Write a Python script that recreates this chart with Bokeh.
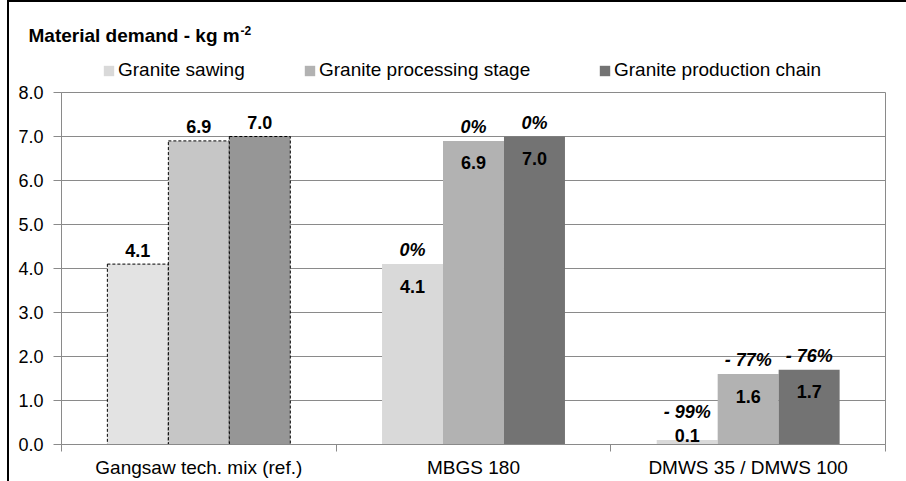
from bokeh.plotting import figure
from bokeh.layouts import column
from bokeh.models import (ColumnDataSource, Range1d, FixedTicker, NumeralTickFormatter,
                          Legend, LegendItem, Label)
from bokeh.core.properties import value
from bokeh.embed import file_html
from bokeh.resources import INLINE

# ---- data -------------------------------------------------------------
categories = ["Gangsaw tech. mix (ref.)", "MBGS 180", "DMWS 35 / DMWS 100"]
series = ["Granite sawing", "Granite processing stage", "Granite production chain"]
sawing = [4.1, 4.1, 0.1]
processing = [6.9, 6.9, 1.6]
production_chain = [7.0, 7.0, 1.7]
sawing_change = ["", "0%", "- 99%"]
processing_change = ["", "0%", "- 77%"]
chain_change = ["", "0%", "- 76%"]
y_ticks = [0, 1, 2, 3, 4, 5, 6, 7, 8]
title_text = "Material demand - kg m"
title_exponent = "-2"

values = [sawing, processing, production_chain]
changes = [sawing_change, processing_change, chain_change]

# ---- styling ------------------------------------------------------------
FONT = "Liberation Sans"
GRID = "#8a8a8a"
fill_ref = ["#e3e3e3", "#c6c6c6", "#969696"]     # reference technology (dashed)
fill_alt = ["#d9d9d9", "#b2b2b2", "#737373"]     # alternative technologies
bar_w = 0.222
offsets = [-bar_w, 0.0, bar_w]

W = 897          # canvas width inside the outer frame line
HEAD_H = 80      # title + legend strip
PLOT_H = 399     # chart area

# ---- header: title and legend -----------------------------------------------
head = figure(width=W, height=HEAD_H, x_range=Range1d(0, W), y_range=Range1d(0, HEAD_H),
              x_axis_type=None, y_axis_type=None, output_backend="svg",
              toolbar_location=None, min_border=0)
head.frame_align = False
head.outline_line_color = None
head.grid.visible = False
head.background_fill_color = "white"
head.border_fill_color = "white"

head.add_layout(Label(x=19, y=47, text=title_text, text_font=FONT,
                      text_font_size="19px", text_font_style="bold",
                      text_color="black", text_baseline="middle"))
head.add_layout(Label(x=231, y=52, text=title_exponent, text_font=FONT,
                      text_font_size="12px", text_font_style="bold",
                      text_color="black", text_baseline="middle"))

legend_x = [93, 294, 589]
for k in range(len(series)):
    # zero-height bar: only provides the swatch style for the legend entry
    swatch = head.vbar(x=[0], top=[0], bottom=[0], width=1,
                       fill_color=fill_alt[k], line_color=None)
    lg = Legend(items=[LegendItem(label=series[k], renderers=[swatch])],
                location=(legend_x[k], 1), orientation="horizontal",
                padding=0, margin=0, spacing=0,
                border_line_color=None, background_fill_alpha=0,
                glyph_width=13, glyph_height=13, label_standoff=3, label_height=13,
                label_text_font=FONT, label_text_font_size="19px",
                label_text_color="black", label_text_baseline="middle")
    head.add_layout(lg)

# ---- chart --------------------------------------------------------------
p = figure(width=W, height=PLOT_H,
           x_range=Range1d(-0.5, len(categories) - 0.5), y_range=Range1d(0, 8),
           output_backend="svg", toolbar_location=None,
           min_border_left=52, min_border_right=21,
           min_border_top=10, min_border_bottom=37)
p.frame_align = False
p.background_fill_color = "white"
p.border_fill_color = "white"
p.outline_line_color = GRID
p.outline_line_width = 1

val_x, val_y, val_t, val_dy = [], [], [], []
pct_x, pct_y, pct_t, pct_dy = [], [], [], []
for j in range(len(series)):
    xs = [i + offsets[j] for i in range(len(categories))]
    ref_src = ColumnDataSource(dict(x=xs[:1], top=values[j][:1]))
    alt_src = ColumnDataSource(dict(x=xs[1:], top=values[j][1:]))
    p.vbar(x="x", top="top", width=bar_w, source=ref_src,
           fill_color=fill_ref[j], line_color="black", line_dash="3 2", line_width=1)
    p.vbar(x="x", top="top", width=bar_w, source=alt_src,
           fill_color=fill_alt[j], line_color=None)

    for i, v in enumerate(values[j]):
        val_x.append(xs[i]); val_y.append(v); val_t.append(f"{v:.1f}")
        if i == 0:
            val_dy.append(-14)          # reference: value above the bar
        elif v < 0.5:
            val_dy.append(-5)           # too short to hold its label
        else:
            val_dy.append(22)           # inside, near the top
        if changes[j][i]:
            pct_x.append(xs[i]); pct_y.append(v); pct_t.append(changes[j][i])
            pct_dy.append(-28 if v < 0.5 else -14)

p.text(x="x", y="y", text="t", y_offset="dy",
       source=ColumnDataSource(dict(x=val_x, y=val_y, t=val_t, dy=val_dy)),
       text_font=value(FONT), text_font_size="18px", text_font_style="bold",
       text_color="black", text_align="center", text_baseline="middle")
p.text(x="x", y="y", text="t", y_offset="dy",
       source=ColumnDataSource(dict(x=pct_x, y=pct_y, t=pct_t, dy=pct_dy)),
       text_font=value(FONT), text_font_size="18px", text_font_style="bold italic",
       text_color="black", text_align="center", text_baseline="middle")

xa = p.xaxis[0]
xa.ticker = FixedTicker(ticks=list(range(len(categories))),
                        minor_ticks=[k - 0.5 for k in range(len(categories) + 1)])
xa.major_label_overrides = {k: c for k, c in enumerate(categories)}
xa.major_tick_line_color = None
xa.major_tick_out = 7
xa.major_tick_in = 0
xa.minor_tick_line_color = GRID
xa.minor_tick_out = 7
xa.minor_tick_in = 0
xa.axis_line_color = GRID
xa.major_label_standoff = 5
xa.major_label_text_font = FONT
xa.major_label_text_font_size = "19px"
xa.major_label_text_color = "black"

ya = p.yaxis[0]
ya.ticker = FixedTicker(ticks=y_ticks)
ya.formatter = NumeralTickFormatter(format="0.0")
ya.major_tick_line_color = GRID
ya.major_tick_out = 8
ya.major_tick_in = 0
ya.minor_tick_line_color = None
ya.axis_line_color = GRID
ya.major_label_standoff = 10
ya.major_label_text_font = FONT
ya.major_label_text_font_size = "18px"
ya.major_label_text_color = "black"

p.xgrid.visible = False
p.ygrid.ticker = FixedTicker(ticks=y_ticks)
p.ygrid.grid_line_color = GRID
p.ygrid.grid_line_width = 1

# outer frame line on the left and top edges of the whole chart
layout = column(head, p, spacing=0,
                styles={"border-left": "2px solid black",
                        "border-top": "2px solid black",
                        "margin-left": "7px"})

open("out.html", "w").write(file_html(layout, INLINE))
